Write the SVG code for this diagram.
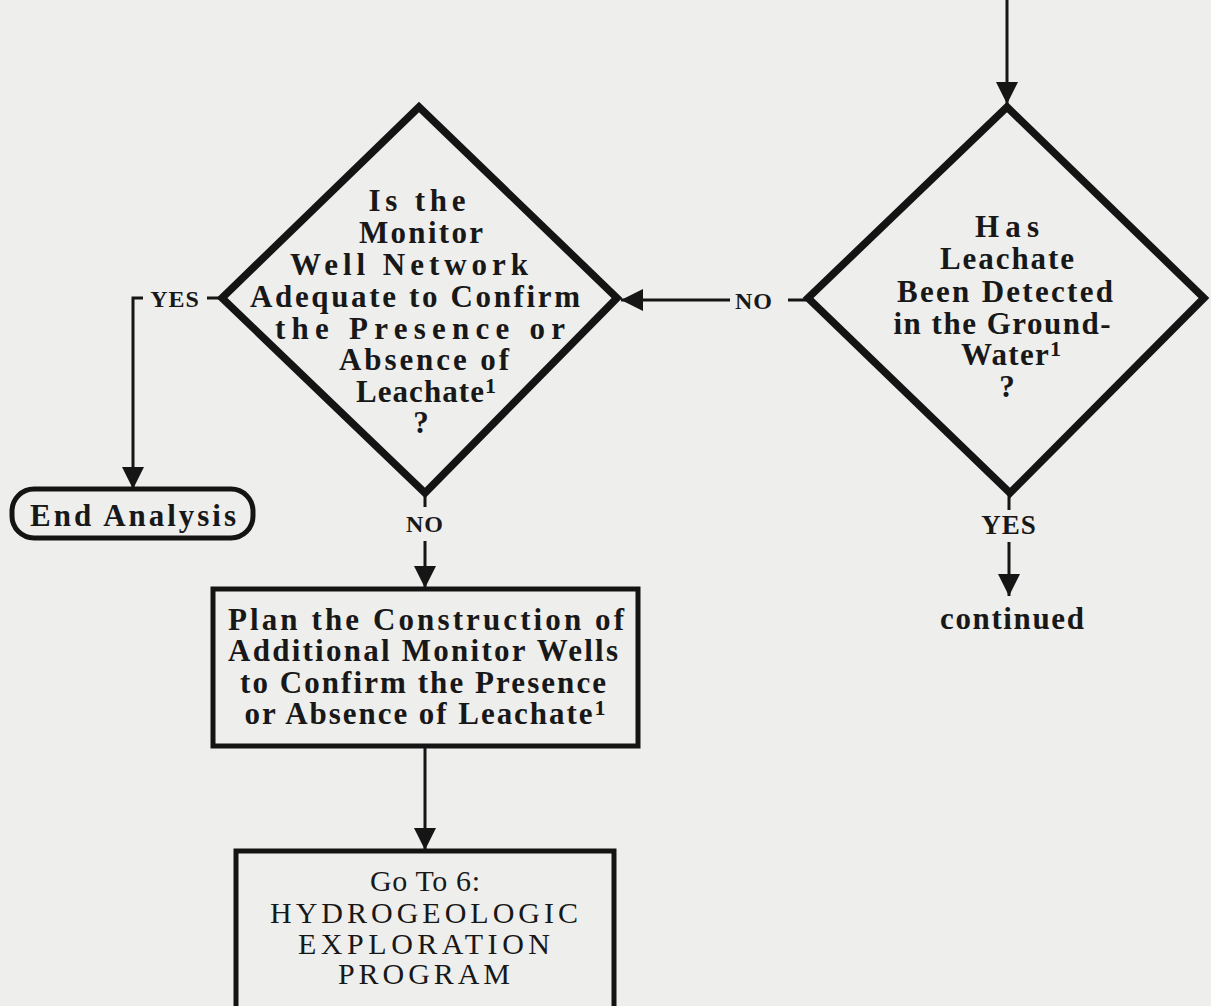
<svg xmlns="http://www.w3.org/2000/svg" width="1211" height="1006" viewBox="0 0 1211 1006">
  <defs>
    <marker id="arrow" markerUnits="userSpaceOnUse" markerWidth="22" markerHeight="24" refX="22" refY="12" orient="auto">
      <path d="M0,1 L22,12 L0,23 Z" fill="#151515"/>
    </marker>
    <style>
      .t { font-family: "Liberation Serif", "Times New Roman", serif; font-size: 31px; font-weight: bold; fill: #181818; text-anchor: middle; }
      .tn { font-family: "Liberation Serif", "Times New Roman", serif; font-size: 30px; fill: #181818; text-anchor: middle; }
      .sup { font-size: 22px; }
      .lbl { font-family: "Liberation Serif", "Times New Roman", serif; font-size: 24px; font-weight: bold; fill: #181818; text-anchor: middle; letter-spacing: 1px; }
      .lblb { font-family: "Liberation Serif", "Times New Roman", serif; font-size: 27px; font-weight: bold; fill: #181818; text-anchor: middle; letter-spacing: 1px; }
      .diamond { fill: none; stroke: #141414; stroke-width: 7.5; stroke-linejoin: miter; }
      .box { fill: none; stroke: #141414; stroke-width: 5; }
      .edge { fill: none; stroke: #151515; stroke-width: 3; }
    </style>
  </defs>

  <rect width="1211" height="1006" fill="#eeeeec"/>

  <!-- connectors -->
  <g id="connectors">
    <!-- entry into the leachate-detected decision -->
    <line class="edge" x1="1007" y1="0" x2="1007" y2="104" marker-end="url(#arrow)"/>
    <!-- NO: leachate decision -> network decision -->
    <line class="edge" x1="808" y1="300" x2="788" y2="300"/>
    <line class="edge" x1="730" y1="300" x2="621" y2="300" marker-end="url(#arrow)"/>
    <text class="lbl" x="754" y="309">NO</text>
    <!-- YES: leachate decision -> continued -->
    <line class="edge" x1="1009" y1="493" x2="1009" y2="510"/>
    <text class="lblb" x="1009" y="534">YES</text>
    <line class="edge" x1="1009" y1="542" x2="1009" y2="596" marker-end="url(#arrow)"/>
    <!-- YES: network decision -> end analysis -->
    <line class="edge" x1="222" y1="298" x2="207" y2="298"/>
    <text class="lbl" x="175" y="307">YES</text>
    <polyline class="edge" points="143,298 133,298 133,489" marker-end="url(#arrow)"/>
    <!-- NO: network decision -> plan box -->
    <line class="edge" x1="425" y1="494" x2="425" y2="507"/>
    <text class="lbl" x="425" y="532">NO</text>
    <line class="edge" x1="425" y1="541" x2="425" y2="588" marker-end="url(#arrow)"/>
    <!-- plan box -> go to 6 -->
    <line class="edge" x1="425" y1="747" x2="425" y2="850" marker-end="url(#arrow)"/>
  </g>

  <!-- decision: leachate detected -->
  <g id="node-detected">
    <polygon class="diamond" points="1007,107 1204,298 1010,493 808,298"/>
    <text class="t" x="1007" y="237" textLength="64" lengthAdjust="spacing">Has</text>
    <text class="t" x="1007" y="269" textLength="134" lengthAdjust="spacing">Leachate</text>
    <text class="t" x="1005" y="302" textLength="216" lengthAdjust="spacing">Been Detected</text>
    <text class="t" x="1002" y="334" textLength="217" lengthAdjust="spacing">in the Ground-</text>
    <text class="t" x="1011" y="365" textLength="100" lengthAdjust="spacing">Water<tspan class="sup" dy="-9">1</tspan></text>
    <text class="t" x="1007" y="397">?</text>
  </g>

  <!-- decision: monitor well network adequate -->
  <g id="node-network">
    <polygon class="diamond" points="419,107 617,298 425,493 222,298"/>
    <text class="t" x="417" y="211" textLength="97" lengthAdjust="spacing">Is the</text>
    <text class="t" x="421" y="243" textLength="124" lengthAdjust="spacing">Monitor</text>
    <text class="t" x="409" y="275" textLength="238" lengthAdjust="spacing">Well Network</text>
    <text class="t" x="415" y="307" textLength="330" lengthAdjust="spacing">Adequate to Confirm</text>
    <text class="t" x="420" y="339" textLength="290" lengthAdjust="spacing">the Presence or</text>
    <text class="t" x="424" y="370" textLength="170" lengthAdjust="spacing">Absence of</text>
    <text class="t" x="426" y="402" textLength="140" lengthAdjust="spacing">Leachate<tspan class="sup" dy="-9">1</tspan></text>
    <text class="t" x="421" y="433">?</text>
  </g>

  <!-- terminal: end analysis -->
  <g id="node-end">
    <rect class="box" x="12" y="489" width="241" height="49" rx="22" ry="22"/>
    <text class="t" x="133" y="526" textLength="206" lengthAdjust="spacing">End Analysis</text>
  </g>

  <!-- process: plan additional wells -->
  <g id="node-plan">
    <rect class="box" x="213" y="589" width="425" height="157"/>
    <text class="t" x="426" y="630" textLength="396" lengthAdjust="spacing">Plan the Construction of</text>
    <text class="t" x="423" y="661" textLength="390" lengthAdjust="spacing">Additional Monitor Wells</text>
    <text class="t" x="423" y="693" textLength="366" lengthAdjust="spacing">to Confirm the Presence</text>
    <text class="t" x="425" y="724" textLength="361" lengthAdjust="spacing">or Absence of Leachate<tspan class="sup" dy="-9">1</tspan></text>
  </g>

  <!-- process: go to hydrogeologic exploration -->
  <g id="node-goto">
    <rect class="box" x="236" y="851" width="378" height="160"/>
    <text class="tn" x="425" y="891" textLength="110" lengthAdjust="spacing">Go To 6:</text>
    <text class="tn" x="424" y="923" textLength="308" lengthAdjust="spacing">HYDROGEOLOGIC</text>
    <text class="tn" x="424" y="954" textLength="252" lengthAdjust="spacing">EXPLORATION</text>
    <text class="tn" x="424" y="984" textLength="172" lengthAdjust="spacing">PROGRAM</text>
  </g>

  <!-- continuation marker -->
  <g id="node-continued">
    <text class="t" x="1012" y="629" textLength="144" lengthAdjust="spacing">continued</text>
  </g>
</svg>
